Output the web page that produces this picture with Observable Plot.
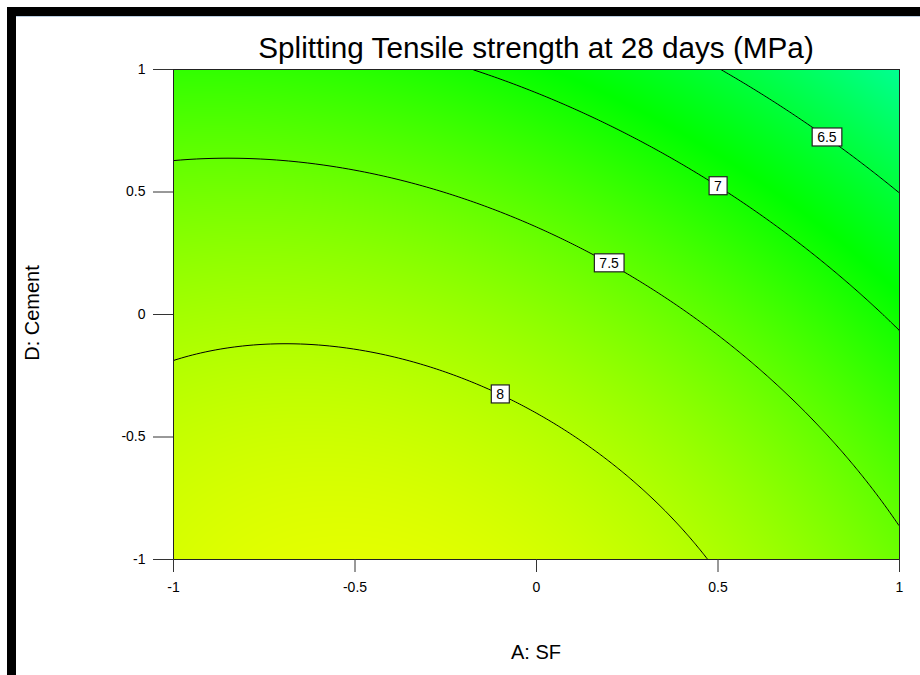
<!DOCTYPE html>
<html>
<head>
<meta charset="utf-8">
<script src="https://cdn.jsdelivr.net/npm/d3@7"></script>
<script src="https://cdn.jsdelivr.net/npm/@observablehq/plot@0.6"></script>
<style>
  html, body { margin: 0; padding: 0; background: #fff; }
  #chart { position: relative; width: 920px; height: 675px; overflow: hidden;
           font-family: Arial, "Liberation Sans", sans-serif; color: #000; }
  .bar { position: absolute; background: #000; }
  #title { position: absolute; left: 173px; width: 726px; top: 33px; text-align: center;
           font-size: 29.7px; line-height: 30px; white-space: nowrap; }
  #xlabel { position: absolute; left: 173px; width: 726px; top: 642px; text-align: center;
            font-size: 20px; line-height: 20px; white-space: nowrap; }
  #ylabel { position: absolute; left: 32px; top: 313px; font-size: 20px; line-height: 20px;
            white-space: nowrap; transform: translate(-50%, -50%) rotate(-90deg); }
  #plot { position: absolute; left: 0; top: 0; }
</style>
</head>
<body>
<div id="chart">
  <div class="bar" style="left:7px;top:7px;width:913px;height:9px"></div>
  <div class="bar" style="left:7px;top:7px;width:9px;height:668px"></div>
  <div style="position:absolute;left:16px;top:16px;width:904px;height:1px;background:#b9cde0"></div>
  <div id="plot"></div>
  <div id="title">Splitting Tensile strength at 28 days (MPa)</div>
  <div id="xlabel">A: SF</div>
  <div id="ylabel">D: Cement</div>
</div>
<script>
// Coded factor ticks (A: SF on x, D: Cement on y)
const sfTicks = [-1, -0.5, 0, 0.5, 1];
const sfTickLabels = ["-1", "-0.5", "0", "0.5", "1"];
const cementTicks = [-1, -0.5, 0, 0.5, 1];
const cementTickLabels = ["-1", "-0.5", "0", "0.5", "1"];

// Quadratic response model in coded units: Intercept, A, D, AD, A², D²
const modelTerms = ["Intercept", "A", "D", "AD", "A²", "D²"];
const modelCoefficients = [7.763, -0.48, -0.667, -0.14, -0.335, -0.195];

// Contour levels (MPa) and where along A each level is labelled
const contourLevels = [6.5, 7, 7.5, 8];
const contourLabelText = ["6.5", "7", "7.5", "8"];
const contourLabelA = [0.8, 0.5, 0.2, -0.1];

// Response values mapped to the ends of the blue → red spectrum
const spectrumLow = 3.64;
const spectrumHigh = 10.11;

const [b0, bA, bD, bAD, bAA, bDD] = modelCoefficients;
const strength = (a, d) => b0 + bA * a + bD * d + bAD * a * d + bAA * a * a + bDD * d * d;

// Solve the model for D at a given A and level (root inside the design space)
function cementAt(a, level) {
  const qa = bDD, qb = bD + bAD * a, qc = b0 + bA * a + bAA * a * a - level;
  const disc = Math.sqrt(qb * qb - 4 * qa * qc);
  const roots = [(-qb + disc) / (2 * qa), (-qb - disc) / (2 * qa)];
  return roots.find(r => r >= -1 && r <= 1);
}

const labels = contourLevels.map((lv, i) => ({
  A: contourLabelA[i],
  D: cementAt(contourLabelA[i], lv),
  text: contourLabelText[i]
}));

const extent = {x1: -1, y1: -1, x2: 1, y2: 1};

const chart = Plot.plot({
  width: 920,
  height: 675,
  marginLeft: 173,
  marginRight: 21,
  marginTop: 69,
  marginBottom: 116,
  style: {fontFamily: "Arial, 'Liberation Sans', sans-serif", background: "transparent", color: "#000"},
  x: {domain: [-1, 1]},
  y: {domain: [-1, 1]},
  color: {
    type: "linear",
    domain: [spectrumLow, spectrumHigh],
    interpolate: t => d3.hsl(240 - 240 * t, 1, 0.5).toString()
  },
  marks: [
    Plot.raster({fill: strength, ...extent, pixelSize: 1}),
    Plot.contour({value: strength, ...extent, thresholds: contourLevels,
                  fill: "none", stroke: "#000", strokeWidth: 1, pixelSize: 1}),
    Plot.frame({stroke: "#222", strokeWidth: 1}),
    Plot.axisX({ticks: sfTicks, tickFormat: d => sfTickLabels[sfTicks.indexOf(d)],
                tickSize: 13, tickPadding: 10, fontSize: 14, stroke: "#333", label: null}),
    Plot.axisY({ticks: cementTicks, tickFormat: d => cementTickLabels[cementTicks.indexOf(d)],
                tickSize: 20, tickPadding: 8, fontSize: 14, stroke: "#333", label: null}),
    Plot.text(labels, {x: "A", y: "D", text: "text", fontSize: 14, fill: "#000"})
  ]
});

document.getElementById("plot").appendChild(chart);

// Boxed contour labels: white rectangle behind each label text
chart.querySelectorAll('g[aria-label="text"] text').forEach(t => {
  const bb = t.getBBox();
  const rect = document.createElementNS("http://www.w3.org/2000/svg", "rect");
  const h = 18;
  rect.setAttribute("x", bb.x - 5);
  rect.setAttribute("y", bb.y + bb.height / 2 - h / 2);
  rect.setAttribute("width", bb.width + 10);
  rect.setAttribute("height", h);
  rect.setAttribute("fill", "#fff");
  rect.setAttribute("stroke", "#222");
  rect.setAttribute("stroke-width", 1.2);
  if (t.getAttribute("transform")) rect.setAttribute("transform", t.getAttribute("transform"));
  t.parentNode.insertBefore(rect, t);
});
</script>
</body>
</html>
